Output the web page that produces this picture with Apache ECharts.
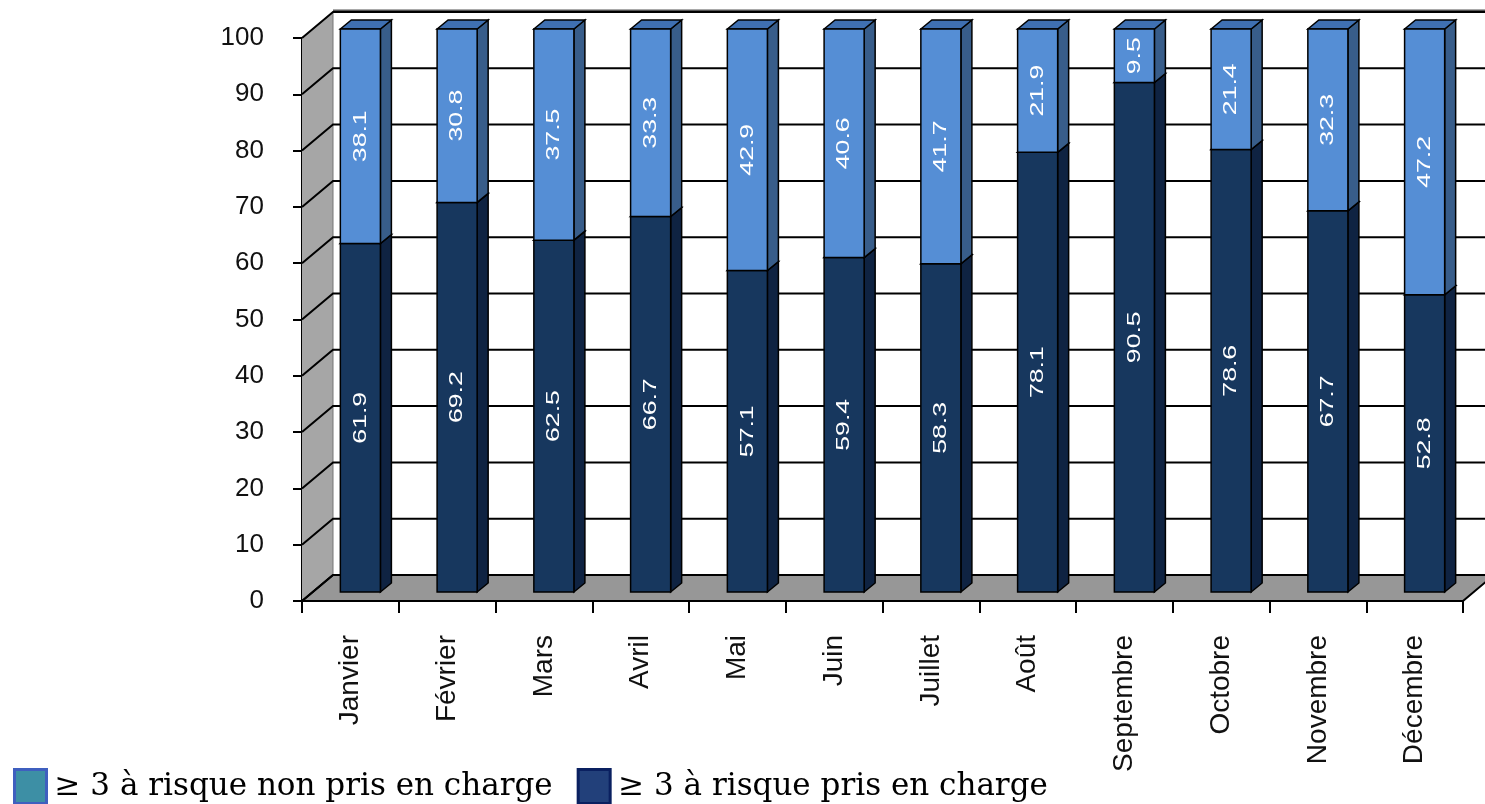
<!DOCTYPE html>
<html><head><meta charset="utf-8">
<script src="https://cdn.jsdelivr.net/npm/echarts@6/dist/echarts.min.js"></script>
<style>html,body{margin:0;padding:0;background:#fff}#c{width:1485px;height:804px}</style>
</head><body><div id="c"></div>
<script>
const months = ['Janvier','Février','Mars','Avril','Mai','Juin','Juillet','Août','Septembre','Octobre','Novembre','Décembre'];
const prisEnCharge = [61.9,69.2,62.5,66.7,57.1,59.4,58.3,78.1,90.5,78.6,67.7,52.8];
const nonPrisEnCharge = [38.1,30.8,37.5,33.3,42.9,40.6,41.7,21.9,9.5,21.4,32.3,47.2];
const yTicks = [0,10,20,30,40,50,60,70,80,90,100];
const nameNon = '≥ 3 à risque non pris en charge';
const namePris = '≥ 3 à risque pris en charge';

// 3D look (pixels)
const WX = 31, WY = -26;   // wall depth
const FX = 10, FY = -9;    // bar front-face offset from the front plane
const BX = 11, BY = -9;    // bar depth
const BAR_RATIO = 0.414;

function wallsItem(params, api) {
  const cs = params.coordSys;
  const x0 = cs.x, y0 = cs.y, w = cs.width, h = cs.height;
  const yb = y0 + h;
  return { type: 'group', children: [
    { type: 'polygon', shape: { points: [[x0, y0],[x0+WX, y0+WY],[x0+WX, yb+WY],[x0, yb]] },
      style: { fill: '#a6a6a6', stroke: null } },
    { type: 'polygon', shape: { points: [[x0, yb],[x0+WX, yb+WY],[x0+w+WX, yb+WY],[x0+w, yb]] },
      style: { fill: '#979797', stroke: '#000', lineWidth: 2 } },
    { type: 'line', shape: { x1: x0+WX, y1: y0+WY, x2: x0+WX, y2: yb+WY }, style: { stroke: '#777', lineWidth: 1 } },
    { type: 'line', shape: { x1: x0+WX, y1: y0+WY-1, x2: x0+w+WX+40, y2: y0+WY-1 }, style: { stroke: '#555', lineWidth: 3 } }
  ]};
}

function gridItem(params, api) {
  const cs = params.coordSys;
  const x0 = cs.x, w = cs.width;
  const y = api.coord([0, api.value(0)])[1];
  return { type: 'polyline', shape: { points: [[x0, y],[x0+WX, y+WY],[x0+w+WX+40, y+WY]] },
    style: { stroke: '#000', lineWidth: 2, fill: null } };
}

function barItemFactory(front, side, top) {
  return function (params, api) {
    const idx = api.value(0), base = api.value(1), val = api.value(2);
    const pB = api.coord([idx, base]);
    const pT = api.coord([idx, base + val]);
    const bw = api.size([1, 0])[0] * BAR_RATIO;
    const cx = pB[0] + FX;
    const x1 = cx - bw / 2, x2 = cx + bw / 2;
    const yT = pT[1] + FY, yB = pB[1] + FY;
    const edge = { stroke: '#000', lineWidth: 1.5 };
    return { type: 'group', children: [
      { type: 'polygon', shape: { points: [[x2, yT],[x2+BX, yT+BY],[x2+BX, yB+BY],[x2, yB]] },
        style: Object.assign({ fill: side }, edge) },
      { type: 'polygon', shape: { points: [[x1, yT],[x1+BX, yT+BY],[x2+BX, yT+BY],[x2, yT]] },
        style: Object.assign({ fill: top }, edge) },
      { type: 'rect', shape: { x: x1, y: yT, width: bw, height: yB - yT },
        style: Object.assign({ fill: front }, edge) },
      { type: 'text', x: cx, y: (yT + yB) / 2, rotation: Math.PI / 2, scaleX: 1.4,
        style: { text: String(val), fill: '#fff', font: '19px "Liberation Sans", Arial, sans-serif',
          align: 'center', verticalAlign: 'middle' } }
    ]};
  };
}

const chart = echarts.init(document.getElementById('c'));
chart.setOption({
  animation: false,
  backgroundColor: '#fff',
  grid: { left: 302, right: 22, top: 38, bottom: 203 },
  legend: {
    left: 8, top: 763, icon: 'rect', itemWidth: 32, itemHeight: 34, itemGap: 24,
    textStyle: { fontFamily: '"DejaVu Serif", serif', fontSize: 31, color: '#000', padding: [0,0,0,3] },
    data: [
      { name: nameNon, itemStyle: { color: '#3d8fa5', borderColor: '#3f5fbf', borderWidth: 3 } },
      { name: namePris, itemStyle: { color: '#22407a', borderColor: '#0a2060', borderWidth: 3 } }
    ]
  },
  xAxis: {
    type: 'category', data: months, boundaryGap: true,
    axisLine: { lineStyle: { color: '#000', width: 2 } },
    axisTick: { show: true, length: 12, lineStyle: { color: '#000', width: 2 } },
    axisLabel: { rotate: 90, margin: 34, fontSize: 28, color: '#111', fontFamily: '"Liberation Sans", Arial, sans-serif', interval: 0 },
    splitLine: { show: false }
  },
  yAxis: {
    type: 'value', min: 0, max: 100, interval: 10,
    axisLine: { show: true, lineStyle: { color: '#000', width: 2 } },
    axisTick: { show: true, length: 9, lineStyle: { color: '#000', width: 2 } },
    axisLabel: { margin: 38, fontSize: 26, color: '#111', fontFamily: '"Liberation Sans", Arial, sans-serif' },
    splitLine: { show: false }
  },
  series: [
    { type: 'custom', name: 'walls', data: [[0, 0]], renderItem: wallsItem, silent: true, z: 1 },
    { type: 'custom', name: 'grid', data: yTicks.map(v => [v]), encode: { y: 0 }, renderItem: gridItem, silent: true, z: 2 },
    { type: 'custom', name: namePris, z: 3,
      itemStyle: { color: '#22407a' },
      data: months.map((m, i) => [i, 0, prisEnCharge[i]]), encode: { x: 0, y: 2 },
      renderItem: barItemFactory('#17375e', '#0f2342', '#1f4070') },
    { type: 'custom', name: nameNon, z: 4,
      itemStyle: { color: '#3d8fa5' },
      data: months.map((m, i) => [i, prisEnCharge[i], nonPrisEnCharge[i]]), encode: { x: 0, y: 2 },
      renderItem: barItemFactory('#558ed5', '#385d8a', '#3f70b2') }
  ]
});
</script></body></html>
